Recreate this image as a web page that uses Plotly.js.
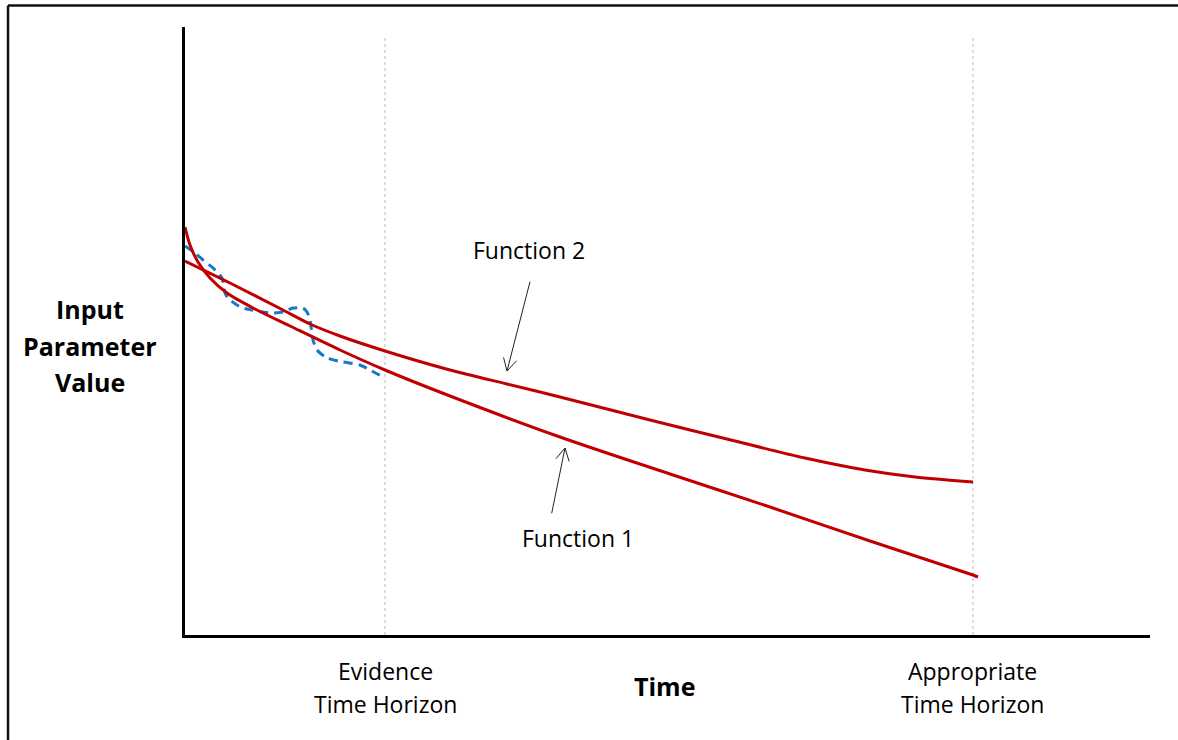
<!DOCTYPE html>
<html>
<head>
<meta charset="utf-8">
<script src="https://cdn.plot.ly/plotly-3.0.1.min.js"></script>
<style>html,body{margin:0;padding:0;background:#fff;}#chart{width:1178px;height:740px;}</style>
</head>
<body>
<div id="chart"></div>
<script>
// ---- data (time units vs. parameter value units) ----
const f1Time  = [0, 0.05, 0.13, 0.25, 0.42, 0.70, 1.05, 1.55, 2.0, 2.65, 3.75, 4.85, 5.85, 6.85, 7.88, 7.93];
const f1Value = [4.08, 3.90, 3.73, 3.57, 3.42, 3.26, 3.09, 2.85, 2.65, 2.39, 1.98, 1.61, 1.28, 0.94, 0.60, 0.58];

const f2Time  = [0, 0.45, 0.98, 1.25, 1.55, 2.0, 2.65, 3.22, 3.75, 4.65, 5.5, 6.2, 6.8, 7.3, 7.88];
const f2Value = [3.74, 3.52, 3.25, 3.11, 2.99, 2.84, 2.65, 2.51, 2.38, 2.15, 1.94, 1.77, 1.65, 1.58, 1.53];

const obsTime  = [0, 0.10, 0.18, 0.28, 0.37, 0.40, 0.43, 0.52, 0.62, 0.85, 0.98, 1.08, 1.18, 1.22, 1.25, 1.28, 1.32, 1.42, 1.58, 1.75, 1.85, 1.98];
const obsValue = [3.89, 3.82, 3.75, 3.67, 3.57, 3.42, 3.37, 3.30, 3.26, 3.22, 3.23, 3.27, 3.27, 3.23, 3.15, 2.95, 2.85, 2.77, 2.73, 2.70, 2.65, 2.58];

const horizonTime   = [2.0, 7.88];
const horizonLabels = [["Evidence", "Time Horizon"], ["Appropriate", "Time Horizon"]];
const yLabelLines   = ["Input", "Parameter", "Value"];
const xLabel        = "Time";
const functionNames = ["Function 1", "Function 2"];

// ---- layout helpers ----
const FONT = "Open Sans, sans-serif";
const RED = "#C00000";
const BLUE = "#1878C8";
const xMax = 9.65, yMax = 6.08;

const traces = [
  {x: obsTime, y: obsValue, mode: "lines", line: {color: BLUE, width: 3, dash: "9px,6px", shape: "spline", smoothing: 0.6}, hoverinfo: "skip"},
  {x: f1Time, y: f1Value, mode: "lines", name: functionNames[0], line: {color: RED, width: 3, shape: "spline", smoothing: 0.8}},
  {x: f2Time, y: f2Value, mode: "lines", name: functionNames[1], line: {color: RED, width: 3, shape: "spline", smoothing: 0.8}}
];

const shapes = [];
// horizon reference lines
horizonTime.forEach(t => shapes.push({type: "line", xref: "x", yref: "y", x0: t, x1: t, y0: 0, y1: 5.97,
  line: {color: "#b8b8b8", width: 1, dash: "dot"}, layer: "below"}));
// page frame (top and left edges)
shapes.push({type: "line", xref: "paper", yref: "paper", x0: -0.1834, x1: 1.03, y0: 1.0354, y1: 1.0354, line: {color: "#111", width: 2.5}});
shapes.push({type: "line", xref: "paper", yref: "paper", x0: -0.1834, x1: -0.1834, y0: 1.0354, y1: -0.18, line: {color: "#111", width: 2.5}});

// pointer arrows: [tailX, tailY, tipX, tipY]
const pointers = [[3.667, 1.217, 3.80, 1.87], [3.45, 3.533, 3.22, 2.64]];
pointers.forEach(p => {
  const [tx, ty, hx, hy] = p;
  const ang = Math.atan2(ty - hy, tx - hx);
  const arm = 0.14, spread = 0.5;
  const line = {color: "#222", width: 1};
  shapes.push({type: "line", xref: "x", yref: "y", x0: tx, y0: ty, x1: hx, y1: hy, line});
  [ang + spread, ang - spread].forEach(a => shapes.push({type: "line", xref: "x", yref: "y",
    x0: hx, y0: hy, x1: hx + arm * Math.cos(a), y1: hy + arm * Math.sin(a), line}));
});

const annotations = [];
// positions given in the chart's own units, placed on paper so that they may sit outside the axes
function txt(text, x, y, size, bold) {
  annotations.push({text: bold ? "<b>" + text + "</b>" : text, x: x / xMax, y: y / yMax, xref: "paper", yref: "paper",
    showarrow: false, xanchor: "center", yanchor: "middle", font: {family: FONT, size, color: "#000"}});
}
horizonLabels.forEach((lines, i) => {
  txt(lines[0], horizonTime[i], -0.36, 23);
  txt(lines[1], horizonTime[i], -0.69, 23);
});
txt(xLabel, 4.79, -0.51, 25, true);
[3.26, 2.89, 2.53].forEach((y, i) => txt(yLabelLines[i], -0.95, y, 25, true));
txt(functionNames[1], 3.44, 3.85, 23);
txt(functionNames[0], 3.93, 0.97, 23);

const layout = {
  width: 1178, height: 740,
  margin: {l: 185, r: 28, t: 27, b: 105},
  paper_bgcolor: "#fff", plot_bgcolor: "#fff",
  showlegend: false,
  xaxis: {range: [0, xMax], showline: true, linecolor: "#000", linewidth: 3, showgrid: false, zeroline: false,
    showticklabels: false, ticks: "", fixedrange: true},
  yaxis: {range: [0, yMax], showline: true, linecolor: "#000", linewidth: 3, showgrid: false, zeroline: false,
    showticklabels: false, ticks: "", fixedrange: true},
  shapes, annotations
};

Plotly.newPlot("chart", traces, layout, {staticPlot: true, displayModeBar: false});
</script>
</body>
</html>
